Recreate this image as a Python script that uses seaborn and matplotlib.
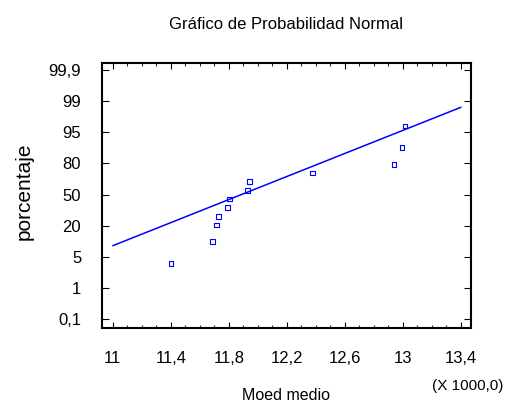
import numpy as np
import pandas as pd
import matplotlib
matplotlib.use("Agg")
import matplotlib.pyplot as plt
import seaborn as sns
from matplotlib.ticker import FixedLocator, NullLocator, MultipleLocator

# data
moed = [11402, 11685, 11715, 11729, 11793, 11804, 11926, 11942, 12377, 12938, 12993, 13014]
pct = [4.2, 12.5, 20.8, 29.2, 37.5, 45.8, 54.2, 62.5, 70.8, 79.2, 87.5, 95.8]
line_x = [11000, 13400]
line_pct = [10.4, 98.2]

y_ticks = [0.1, 1, 5, 20, 50, 80, 95, 99, 99.9]
y_labels = ["0,1", "1", "5", "20", "50", "80", "95", "99", "99,9"]
x_ticks = [11000, 11400, 11800, 12200, 12600, 13000, 13400]
x_labels = ["11", "11,4", "11,8", "12,2", "12,6", "13", "13,4"]

pts = pd.DataFrame({"moed": moed, "pct": pct})
fit = pd.DataFrame({"moed": line_x, "pct": line_pct})

# probability axis: ticks equally spaced
pos = np.arange(len(y_ticks), dtype=float)


def _pw(v, xs, ys):
    v = np.asarray(v, dtype=float)
    out = np.interp(v, xs, ys)
    out = np.where(v < xs[0], ys[0] + (v - xs[0]) * (ys[1] - ys[0]) / (xs[1] - xs[0]), out)
    out = np.where(v > xs[-1], ys[-1] + (v - xs[-1]) * (ys[-1] - ys[-2]) / (xs[-1] - xs[-2]), out)
    return out


def fwd(p):
    return _pw(p, np.array(y_ticks), pos)


def inv(z):
    return _pw(z, pos, np.array(y_ticks))


sns.set_style("white")
plt.rcParams["text.color"] = "black"
font = ["Liberation Sans", "DejaVu Sans"]

fig = plt.figure(figsize=(5.07, 4.03), dpi=100)
ax = fig.add_axes([0.2012, 0.1868, 0.7272, 0.6569])

blue = "#0000ff"
sns.lineplot(data=fit, x="moed", y="pct", color=blue, lw=1.1, ax=ax)
sns.scatterplot(data=pts, x="moed", y="pct", marker="s", s=12,
                facecolor="none", edgecolor=blue, linewidth=0.8, ax=ax)

ax.set_yscale("function", functions=(fwd, inv))
ax.set_ylim(float(inv(-0.27)), float(inv(8.22)))
ax.set_xlim(10926, 13467)

ax.yaxis.set_major_locator(FixedLocator(y_ticks))
ax.yaxis.set_minor_locator(NullLocator())
ax.set_yticklabels(y_labels, family=font, fontsize=12)
ax.set_xticks(x_ticks)
ax.set_xticklabels(x_labels, family=font, fontsize=12)
ax.xaxis.set_minor_locator(MultipleLocator(100))

ax.tick_params(axis="y", which="major", direction="in", length=5, width=0.8,
               left=True, right=True, pad=15, colors="black")
ax.tick_params(axis="x", which="major", direction="in", length=4.3, width=0.8,
               bottom=True, top=True, pad=16.5, colors="black")
ax.tick_params(axis="x", which="minor", direction="in", length=2.2, width=0.8,
               bottom=True, top=True)
for s in ax.spines.values():
    s.set_visible(True)
    s.set_color("black")
    s.set_linewidth(1.5)

ax.set_xlabel("")
ax.set_ylabel("")

fig.text(0.564, 0.927, "Gráfico de Probabilidad Normal", ha="center", va="baseline",
         family=font, fontsize=12, color="black")
fig.text(0.047, 0.526, "porcentaje", rotation=90, ha="center", va="center",
         family=font, fontsize=15, color="black")
fig.text(0.564, 0.0074, "Moed medio", ha="center", va="baseline",
         family=font, fontsize=11.5, color="black")
fig.text(0.923, 0.032, "(X 1000,0)", ha="center", va="baseline",
         family=font, fontsize=11, color="black")

fig.savefig("out.png", dpi=100)
